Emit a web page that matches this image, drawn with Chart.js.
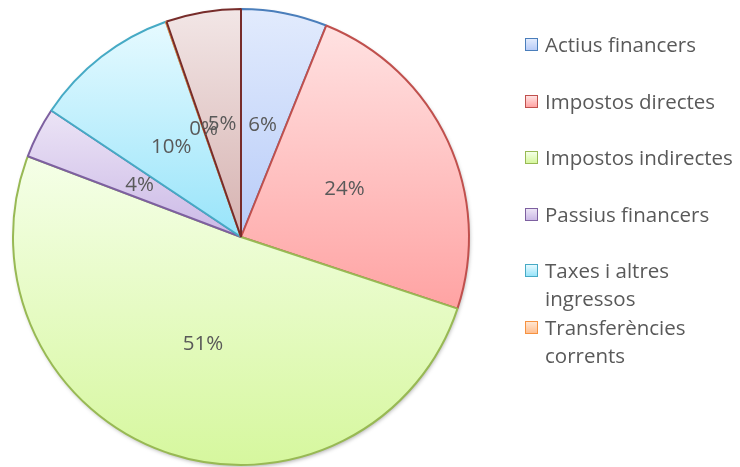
<!DOCTYPE html>
<html>
<head>
<meta charset="utf-8">
<script src="https://cdn.jsdelivr.net/npm/chart.js@4.4.1/dist/chart.umd.min.js"></script>
<style>
  html,body{margin:0;padding:0;background:#fff;}
  #wrap{position:relative;width:740px;height:467px;overflow:hidden;}
  #c{position:absolute;left:0;top:0;}
  .lg{position:absolute;left:525px;width:215px;font-family:"Open Sans",sans-serif;font-size:20.5px;line-height:28px;color:#595959;white-space:normal;}
  .lg .bx{position:absolute;left:0;top:8px;width:11px;height:11px;border:1.5px solid #000;}
  .lg .tx{margin-left:20px;}
</style>
</head>
<body>
<div id="wrap">
  <canvas id="c" width="740" height="467"></canvas>
</div>
<script>
const categories = [
  "Actius financers",
  "Impostos directes",
  "Impostos indirectes",
  "Passius financers",
  "Taxes i altres ingressos",
  "Transferències corrents",
  "Transferències de capital"
];
const values = [6.1, 24.0, 50.7, 3.6, 10.3, 0.05, 5.3];
const legendCount = 6;

const borderColors = ["#4a7ebb","#c0504d","#98b954","#7d60a0","#46aac5","#f69240","#772c2a"];
const topColors    = ["#e2ebfd","#ffe2e2","#f5ffe8","#ece4f6","#e6faff","#ffe6d2","#f2e6e6"];
const bottomColors = ["#b8ccf8","#ffa3a3","#d6f79e","#cbb9e6","#98e4fa","#ffbf90","#d6b2b0"];

const total = values.reduce((a,b)=>a+b,0);

function sectorBox(x,y,r,a0,a1){
  let ys=[y, y+r*Math.sin(a0), y+r*Math.sin(a1)];
  for(let k=-4;k<=8;k++){
    const a=k*Math.PI/2;
    if(a>a0 && a<a1) ys.push(y+r*Math.sin(a));
  }
  return [Math.min(...ys), Math.max(...ys)];
}

const gradPlugin = {
  id:'grad',
  beforeDatasetsDraw(chart){
    const ctx=chart.ctx;
    const meta=chart.getDatasetMeta(0);
    const a=meta.data[0];
    ctx.save();
    ctx.beginPath();
    ctx.arc(a.x, a.y, a.outerRadius-0.5, 0, Math.PI*2);
    ctx.fillStyle='#fff';
    ctx.shadowColor='rgba(0,0,0,0.35)';
    ctx.shadowBlur=4;
    ctx.shadowOffsetX=1;
    ctx.shadowOffsetY=2;
    ctx.fill();
    ctx.restore();
    meta.data.forEach((el,i)=>{
      const [y0,y1]=sectorBox(el.x,el.y,el.outerRadius,el.startAngle,el.endAngle);
      const g=ctx.createLinearGradient(0,y0,0,Math.max(y1,y0+1));
      g.addColorStop(0,topColors[i]);
      g.addColorStop(1,bottomColors[i]);
      el.options.backgroundColor=g;
    });
  }
};

const labelPlugin = {
  id:'pct',
  afterDatasetsDraw(chart){
    const ctx=chart.ctx;
    const meta=chart.getDatasetMeta(0);
    ctx.save();
    ctx.font='20.5px "Open Sans", sans-serif';
    ctx.fillStyle='#595959';
    ctx.textAlign='center';
    ctx.textBaseline='middle';
    meta.data.forEach((el,i)=>{
      const mid=(el.startAngle+el.endAngle)/2;
      const r=el.outerRadius*0.5;
      const txt=Math.round(values[i]/total*100)+'%';
      ctx.fillText(txt, el.x+r*Math.cos(mid), el.y+r*Math.sin(mid));
    });
    ctx.restore();
  }
};

new Chart(document.getElementById('c'),{
  type:'pie',
  data:{
    labels:categories,
    datasets:[{
      data:values,
      backgroundColor:topColors,
      borderColor:borderColors,
      borderWidth:2,
      offset:0
    }]
  },
  options:{
    responsive:false,
    animation:false,
    events:[],
    layout:{padding:{left:12,right:270,top:8,bottom:1}},
    plugins:{legend:{display:false},tooltip:{enabled:false}}
  },
  plugins:[gradPlugin,labelPlugin]
});

const wrap=document.getElementById('wrap');
categories.slice(0,legendCount).forEach((name,i)=>{
  const d=document.createElement('div');
  d.className='lg';
  d.style.top=(30+i*56.6)+'px';
  const b=document.createElement('div');
  b.className='bx';
  b.style.borderColor=borderColors[i];
  b.style.background='linear-gradient('+topColors[i]+','+bottomColors[i]+')';
  const t=document.createElement('div');
  t.className='tx';
  t.textContent=name;
  d.appendChild(b);d.appendChild(t);
  wrap.appendChild(d);
});
</script>
</body>
</html>
